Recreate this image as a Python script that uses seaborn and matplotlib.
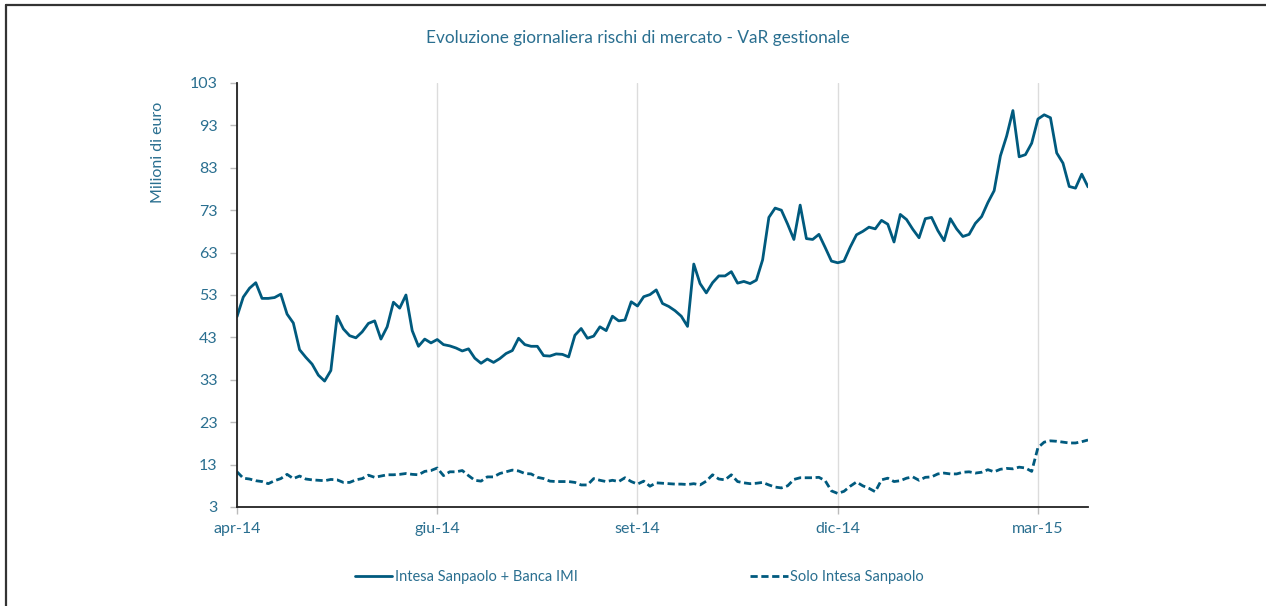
import numpy as np
import pandas as pd
import matplotlib.pyplot as plt
import seaborn as sns
from matplotlib.lines import Line2D

title = "Evoluzione giornaliera rischi di mercato - VaR gestionale"
ylabel = "Milioni di euro"
series_names = ["Intesa Sanpaolo + Banca IMI", "Solo Intesa Sanpaolo"]
month_labels = ["apr-14", "giu-14", "set-14", "dic-14", "mar-15"]
y_ticks = [3, 13, 23, 33, 43, 53, 63, 73, 83, 93, 103]

# one value every two trading days, apr-14 .. mar-15
var_gruppo = [
    47.9, 52.5, 54.6, 55.9, 52.2, 52.2, 52.4, 53.2, 48.5, 46.4,
    40.1, 38.3, 36.7, 34.1, 32.7, 35.2, 48.0, 45.0, 43.4, 42.9,
    44.3, 46.3, 46.9, 42.6, 45.5, 51.3, 49.9, 53.0, 44.6, 40.9,
    42.6, 41.7, 42.5, 41.3, 41.0, 40.5, 39.8, 40.3, 38.1, 36.9,
    37.9, 37.1, 38.0, 39.2, 39.9, 42.8, 41.3, 40.9, 40.9, 38.7,
    38.6, 39.1, 39.0, 38.4, 43.5, 45.1, 42.8, 43.3, 45.5, 44.6,
    48.0, 46.9, 47.1, 51.4, 50.4, 52.6, 53.1, 54.2, 51.0, 50.3,
    49.3, 48.0, 45.6, 60.3, 55.7, 53.5, 55.9, 57.5, 57.5, 58.5,
    55.8, 56.2, 55.7, 56.5, 61.3, 71.3, 73.5, 73.0, 69.7, 66.1,
    74.2, 66.3, 66.1, 67.3, 64.2, 61.0, 60.6, 61.0, 64.3, 67.2,
    68.0, 69.0, 68.6, 70.6, 69.7, 65.5, 72.0, 70.8, 68.5, 66.5,
    71.0, 71.3, 68.2, 65.8, 71.0, 68.6, 66.8, 67.3, 69.9, 71.5,
    74.8, 77.6, 85.8, 90.5, 96.5, 85.6, 86.1, 88.8, 94.5, 95.5,
    94.8, 86.5, 84.1, 78.6, 78.2, 81.5, 78.5,
]
var_solo = [
    11.3, 9.8, 9.6, 9.2, 9.0, 8.5, 9.2, 9.7, 10.7, 9.7,
    10.3, 9.6, 9.4, 9.3, 9.2, 9.5, 9.4, 8.8, 8.8, 9.4,
    9.7, 10.5, 10.0, 10.3, 10.6, 10.6, 10.7, 10.9, 10.7, 10.6,
    11.4, 11.6, 12.2, 10.4, 11.3, 11.3, 11.6, 10.4, 9.3, 9.1,
    10.1, 10.1, 10.9, 11.3, 11.7, 11.5, 10.9, 10.8, 10.0, 9.7,
    9.1, 9.0, 9.0, 9.0, 8.8, 8.2, 8.2, 9.7, 9.3, 9.0,
    9.3, 9.0, 9.9, 9.0, 8.4, 9.1, 7.9, 8.7, 8.6, 8.5,
    8.4, 8.4, 8.3, 8.5, 8.2, 9.1, 10.6, 9.6, 9.4, 10.6,
    9.0, 8.7, 8.5, 8.6, 8.8, 8.2, 7.7, 7.5, 8.0, 9.5,
    9.9, 9.9, 9.9, 10.0, 9.2, 6.8, 6.2, 6.7, 7.9, 8.9,
    8.0, 7.4, 6.6, 9.4, 9.8, 9.0, 9.2, 9.8, 10.1, 9.3,
    10.0, 10.1, 10.8, 11.0, 10.8, 10.8, 11.2, 11.3, 11.0, 11.2,
    11.8, 11.3, 11.9, 12.1, 12.0, 12.4, 12.2, 11.4, 17.0, 18.3,
    18.6, 18.5, 18.3, 18.1, 18.1, 18.4, 18.8,
]

df = pd.DataFrame({
    "giorno": np.arange(len(var_gruppo)),
    series_names[0]: var_gruppo,
    series_names[1]: var_solo,
}).melt(id_vars="giorno", var_name="serie", value_name="valore")

line_col = "#005a7e"
text_col = "#2a6f90"

sns.set_theme(style="white")
plt.rcParams["font.family"] = ["Lato", "DejaVu Sans"]

fig = plt.figure(figsize=(12.66, 6.06), dpi=100)
ax = fig.add_axes([237 / 1266, 1 - 507 / 606, 851 / 1266, 424 / 606])

sns.lineplot(
    data=df, x="giorno", y="valore", hue="serie", style="serie",
    palette=[line_col, line_col],
    dashes={series_names[0]: "", series_names[1]: (2.6, 1.3)},
    linewidth=2.0, legend=False, ax=ax,
)

n = len(var_gruppo)
ax.set_xlim(0, n - 1)
ax.set_ylim(y_ticks[0], y_ticks[-1])
ax.set_xticks(np.arange(len(month_labels)) * 32)
ax.set_xticklabels(month_labels)
ax.set_yticks(y_ticks)
ax.set_xlabel("")
ax.set_ylabel("")

ax.xaxis.grid(True, color="#dcdcdc", linewidth=1)
ax.yaxis.grid(False)
for side in ["top", "right"]:
    ax.spines[side].set_visible(False)
for side in ["left", "bottom"]:
    ax.spines[side].set_color("#222222")
    ax.spines[side].set_linewidth(1.3)

ax.tick_params(axis="both", which="major", length=5, width=1, color="#bbbbbb",
               labelcolor=text_col, labelsize=11.5)
ax.tick_params(axis="y", pad=9, left=True)
ax.tick_params(axis="x", pad=6, bottom=True)

fig.text(638 / 1266, 1 - 38 / 606, title, ha="center", va="center",
         color=text_col, fontsize=12.4)
fig.text(158 / 1266, 1 - 152 / 606, ylabel, ha="center", va="center",
         rotation=90, color=text_col, fontsize=11.5)

handles = ax.get_lines()[:2]
fig.legend(handles, series_names, loc="center",
           bbox_to_anchor=(639 / 1266, 1 - 577 / 606), ncol=2, frameon=False,
           handlelength=2.6, handletextpad=0.15, columnspacing=11.8,
           fontsize=10.5, labelcolor=text_col)

# outer frame of the original picture (left and top edges)
fig.add_artist(Line2D([6 / 1266, 6 / 1266], [0, 1 - 5 / 606],
                      transform=fig.transFigure, color="#333333", lw=1.6))
fig.add_artist(Line2D([6 / 1266, 1], [1 - 5 / 606, 1 - 5 / 606],
                      transform=fig.transFigure, color="#333333", lw=1.6))

fig.savefig("out.png", dpi=100)
